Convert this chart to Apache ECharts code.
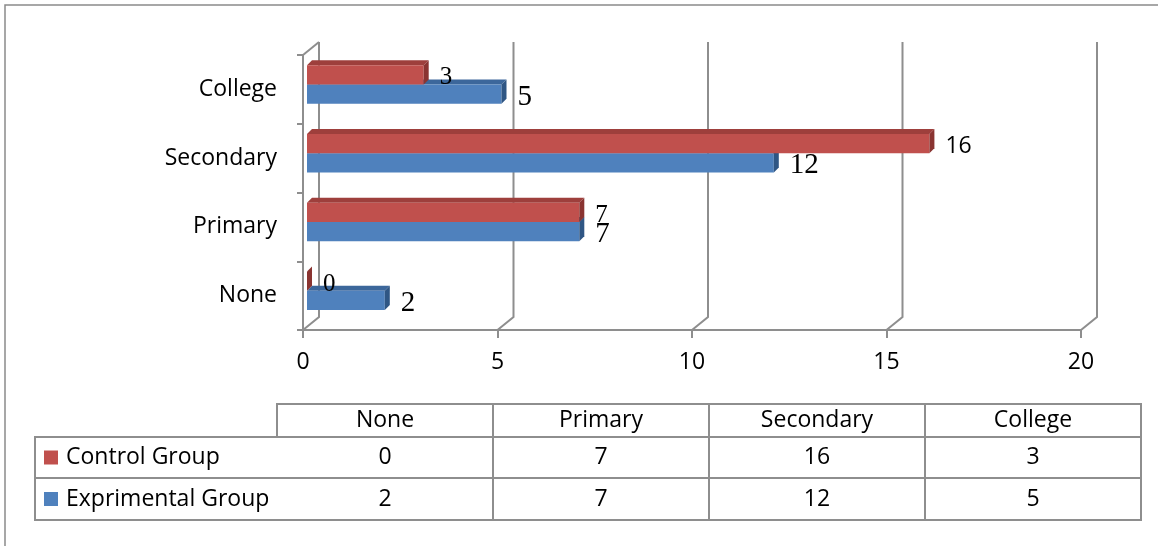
<!DOCTYPE html>
<html>
<head>
<meta charset="utf-8">
<script src="https://cdn.jsdelivr.net/npm/echarts@6.0.0/dist/echarts.min.js"></script>
<style>
  html, body { margin: 0; padding: 0; background: #fff; }
  #chart { width: 1158px; height: 546px; }
</style>
</head>
<body>
<div id="chart"></div>
<script>
// data
const categories = ['None', 'Primary', 'Secondary', 'College']
const controlGroup = [0, 7, 16, 3]
const experimentalGroup = [2, 7, 12, 5]
const seriesNames = ['Control Group', 'Exprimental Group']
const xTicks = [0, 5, 10, 15, 20]

const grey = '#8e8e8e'
const font = 'Open Sans'
const red = {front: '#c0504d', top: '#9e3f3c', side: '#8a3431'}
const blue = {front: '#4f81bd', top: '#3c679b', side: '#2f5684'}

// the back wall of the 3d box, built from the axis ticks
function renderWall(params, api) {
  const cs = params.coordSys
  const x = api.coord([api.value(0), 0])[0]
  const dx = 16, dy = -13
  const top = cs.y, bottom = cs.y + cs.height
  const style = {stroke: grey, lineWidth: 2, fill: 'none'}
  const children = [{
    type: 'polyline',
    shape: {points: [[x + dx, top + dy], [x + dx, bottom + dy], [x, bottom]]},
    style: style
  }]
  if (params.dataIndex === 0) {
    children.push({type: 'line', shape: {x1: x, y1: top, x2: x + dx, y2: top + dy}, style: style})
  }
  return {type: 'group', children: children}
}

// labelFont can be a function of the data index (the source mixes fonts)
function makeBarRenderer(upper, colors, labelFont) {
  return function (params, api) {
    const v = api.value(0)
    const c = api.value(1)
    const p0 = api.coord([0, c])
    const p1 = api.coord([v, c])
    const band = api.size([0, 1])[1]
    const h = band * 0.28
    const cy = p0[1] - 5
    const top = upper ? cy - h : cy
    const bottom = top + h
    const x0 = p0[0] + 4
    const x1 = p1[0] + 4
    const d = 5
    return {
      type: 'group',
      children: [
        {type: 'polygon', shape: {points: [[x0, top], [x1, top], [x1 + d, top - d], [x0 + d, top - d]]}, style: {fill: colors.top}},
        {type: 'rect', shape: {x: x0, y: top, width: x1 - x0, height: h}, style: {fill: colors.front}},
        {type: 'polygon', shape: {points: [[x1, top], [x1 + d, top - d], [x1 + d, bottom - d], [x1, bottom]]}, style: {fill: colors.side}},
        {
          type: 'text',
          x: p1[0] + 20,
          y: (top + bottom) / 2 + 3,
          style: {text: String(v), font: labelFont(params.dataIndex), fill: '#000', verticalAlign: 'middle', align: 'left'}
        }
      ]
    }
  }
}

// data table under the chart
const tblLeft = 35, tblHead = 277, colW = 216
const rowY = [404, 437, 478, 520]
const tblRight = tblHead + colW * categories.length
const lineStyle = {stroke: grey, lineWidth: 2}
const table = []
table.push({type: 'rect', shape: {x: tblHead, y: rowY[0], width: tblRight - tblHead, height: rowY[1] - rowY[0]}, style: {fill: 'none', ...lineStyle}})
table.push({type: 'rect', shape: {x: tblLeft, y: rowY[1], width: tblRight - tblLeft, height: rowY[3] - rowY[1]}, style: {fill: 'none', ...lineStyle}})
table.push({type: 'line', shape: {x1: tblLeft, y1: rowY[2], x2: tblRight, y2: rowY[2]}, style: lineStyle})
for (let i = 1; i < categories.length; i++) {
  const x = tblHead + colW * i
  table.push({type: 'line', shape: {x1: x, y1: rowY[0], x2: x, y2: rowY[3]}, style: lineStyle})
}
categories.forEach((name, i) => {
  table.push({type: 'text', x: tblHead + colW * (i + 0.5), y: (rowY[0] + rowY[1]) / 2,
    style: {text: name, font: '23px "' + font + '"', fill: '#000', align: 'center', verticalAlign: 'middle'}})
})
const rows = [[seriesNames[0], controlGroup, red.front], [seriesNames[1], experimentalGroup, blue.front]]
rows.forEach((row, r) => {
  const cy = (rowY[r + 1] + rowY[r + 2]) / 2
  table.push({type: 'rect', shape: {x: 44, y: cy - 7, width: 14, height: 14}, style: {fill: row[2]}})
  table.push({type: 'text', x: 66, y: cy,
    style: {text: row[0], font: '23px "' + font + '"', fill: '#000', align: 'left', verticalAlign: 'middle'}})
  row[1].forEach((v, i) => {
    table.push({type: 'text', x: tblHead + colW * (i + 0.5), y: cy,
      style: {text: String(v), font: '23px "' + font + '"', fill: '#000', align: 'center', verticalAlign: 'middle'}})
  })
})
// outer frame
table.push({type: 'rect', shape: {x: 5, y: 5, width: 1300, height: 700}, style: {fill: 'none', stroke: '#8a8a8a', lineWidth: 1.5}, z: -1})

const myChart = echarts.init(document.getElementById('chart'), null, {renderer: 'canvas'})
myChart.setOption({
  animation: false,
  backgroundColor: '#fff',
  grid: {left: 303, right: 77, top: 55, bottom: 216, outerBoundsMode: 'none', containLabel: false},
  xAxis: {
    type: 'value', min: 0, max: 20, interval: 5,
    splitLine: {show: false},
    axisLine: {show: true, lineStyle: {color: grey, width: 2}},
    axisTick: {show: true, length: 8, lineStyle: {color: grey, width: 2}},
    axisLabel: {color: '#000', fontSize: 23, fontFamily: font, margin: 21}
  },
  yAxis: {
    type: 'category', data: categories,
    axisLine: {show: true, lineStyle: {color: grey, width: 2}},
    axisTick: {show: true, length: 6, lineStyle: {color: grey, width: 2}},
    axisLabel: {color: '#000', fontSize: 23, fontFamily: font, margin: 26},
    splitLine: {show: false}
  },
  graphic: table,
  series: [
    {type: 'custom', name: 'wall', renderItem: renderWall, data: xTicks.map(v => [v]), encode: {x: 0}, z: 1, silent: true},
    {type: 'custom', name: seriesNames[1], renderItem: makeBarRenderer(false, blue, () => '29px "Liberation Serif"'),
      data: experimentalGroup.map((v, i) => [v, i]), encode: {x: 0, y: 1}, z: 2},
    {type: 'custom', name: seriesNames[0],
      renderItem: makeBarRenderer(true, red, i => i === 2 ? '23px "' + font + '"' : '25px "Liberation Serif"'),
      data: controlGroup.map((v, i) => [v, i]), encode: {x: 0, y: 1}, z: 3}
  ]
})
window.addEventListener('resize', () => myChart.resize())
</script>
</body>
</html>
